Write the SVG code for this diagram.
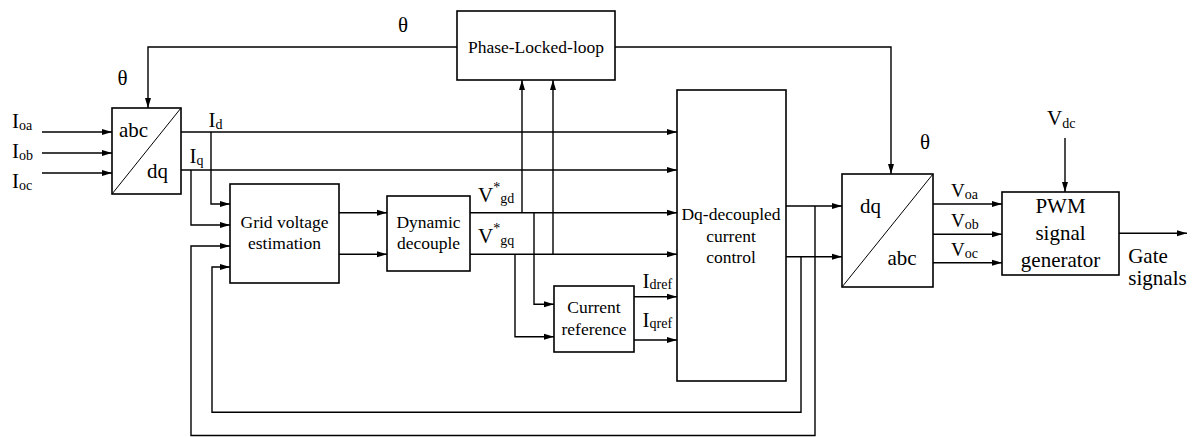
<svg xmlns="http://www.w3.org/2000/svg" width="1198" height="437" viewBox="0 0 1198 437" font-family="Liberation Serif, DejaVu Serif, serif">
<style>
  .box{fill:#fff;stroke:#000;stroke-width:1.6}
  .diag{stroke:#000;stroke-width:1;fill:none}
  .ln{fill:none;stroke:#000;stroke-width:1.4}
  .arr{marker-end:url(#ah)}
  text{font-family:'Liberation Serif','DejaVu Serif',serif;fill:#000}
  .blk{font-size:17.5px;text-anchor:middle}
  .big{font-size:21px}
  .bigc{font-size:21px;text-anchor:middle}
  .sub{font-size:14px}
</style>
<defs>
  <marker id="ah" markerUnits="userSpaceOnUse" markerWidth="10" markerHeight="6" refX="10" refY="3" orient="auto" overflow="visible">
    <path d="M0,0 L10,3 L0,6 z" fill="#000"/>
  </marker>
</defs>

<g id="connectors">
  <path class="ln arr" d="M42,132 H112"/>
  <path class="ln arr" d="M42,153 H112"/>
  <path class="ln arr" d="M42,173 H112"/>
  <path class="ln arr" d="M457,47 H148 V108"/>
  <path class="ln arr" d="M615,47 H891 V174"/>
  <path class="ln arr" d="M181,132 H677"/>
  <path class="ln arr" d="M181,170 H677"/>
  <path class="ln arr" d="M211,132 V204 H230"/>
  <path class="ln arr" d="M191,170 V225 H230"/>
  <path class="ln arr" d="M339,212.7 H387"/>
  <path class="ln arr" d="M339,254.3 H387"/>
  <path class="ln arr" d="M470,212.7 H677"/>
  <path class="ln arr" d="M470,254.3 H677"/>
  <path class="ln arr" d="M522,212.7 V80"/>
  <path class="ln arr" d="M553,254.3 V80"/>
  <path class="ln arr" d="M534,212.7 V304.3 H554"/>
  <path class="ln arr" d="M515,254.3 V336.7 H554"/>
  <path class="ln arr" d="M634,296.7 H677"/>
  <path class="ln arr" d="M634,340 H677"/>
  <path class="ln arr" d="M786,206 H842"/>
  <path class="ln arr" d="M786,256.7 H842"/>
  <path class="ln arr" d="M815,206 V435.5 H191 V246 H230"/>
  <path class="ln arr" d="M801,256.7 V412.3 H212 V267 H230"/>
  <path class="ln arr" d="M933,204 H1002"/>
  <path class="ln arr" d="M933,234.3 H1002"/>
  <path class="ln arr" d="M933,262.7 H1002"/>
  <path class="ln arr" d="M1065,138 V192"/>
  <path class="ln arr" d="M1119,233.3 H1187"/>
</g>

<g id="abc-dq">
  <rect class="box" x="112" y="108" width="69" height="86"/>
  <line class="diag" x1="112" y1="194" x2="181" y2="108"/>
  <text class="big" x="119" y="137">abc</text>
  <text class="big" x="147" y="178">dq</text>
</g>

<g id="pll">
  <rect class="box" x="457" y="11" width="158" height="69"/>
  <text class="blk" x="536" y="53">Phase-Locked-loop</text>
</g>

<g id="grid-voltage-estimation">
  <rect class="box" x="230" y="184" width="109" height="99"/>
  <text class="blk" x="284.5" y="228">Grid voltage</text>
  <text class="blk" x="284.5" y="249">estimation</text>
</g>

<g id="dynamic-decouple">
  <rect class="box" x="387" y="196" width="83" height="75"/>
  <text class="blk" x="428.5" y="228">Dynamic</text>
  <text class="blk" x="428.5" y="249">decouple</text>
</g>

<g id="current-reference">
  <rect class="box" x="554" y="286" width="80" height="66"/>
  <text class="blk" x="594" y="313">Current</text>
  <text class="blk" x="594" y="335">reference</text>
</g>

<g id="dq-decoupled-current-control">
  <rect class="box" x="677" y="90" width="109" height="291"/>
  <text class="blk" x="731" y="220">Dq-decoupled</text>
  <text class="blk" x="731" y="241.5">current</text>
  <text class="blk" x="731" y="262.5">control</text>
</g>

<g id="dq-abc">
  <rect class="box" x="842" y="174" width="91" height="113"/>
  <line class="diag" x1="842" y1="287" x2="933" y2="174"/>
  <text class="big" x="860" y="213">dq</text>
  <text class="big" x="887.5" y="265">abc</text>
</g>

<g id="pwm">
  <rect class="box" x="1002" y="192" width="117" height="83"/>
  <text class="bigc" x="1060.5" y="213">PWM</text>
  <text class="bigc" x="1060.5" y="240">signal</text>
  <text class="bigc" x="1060.5" y="266.5">generator</text>
</g>

<g id="labels">
  <text class="big" x="12" y="128">I<tspan class="sub" dy="2">oa</tspan></text>
  <text class="big" x="12" y="158">I<tspan class="sub" dy="2">ob</tspan></text>
  <text class="big" x="12" y="188">I<tspan class="sub" dy="2">oc</tspan></text>
  <text class="bigc" x="122.5" y="85">θ</text>
  <text class="bigc" x="403" y="32">θ</text>
  <text class="bigc" x="925" y="149">θ</text>
  <text class="big" x="208.5" y="127">I<tspan class="sub" dy="2">d</tspan></text>
  <text class="big" x="189.5" y="163">I<tspan class="sub" dy="2">q</tspan></text>
  <text class="big" x="478" y="202">V<tspan class="sub" dy="-10">*</tspan><tspan class="sub" dy="11">gd</tspan></text>
  <text class="big" x="478" y="243">V<tspan class="sub" dy="-10">*</tspan><tspan class="sub" dy="12">gq</tspan></text>
  <text class="big" x="642.5" y="287.5">I<tspan class="sub" dy="1">dref</tspan></text>
  <text class="big" x="642.5" y="326.5">I<tspan class="sub" dy="1">qref</tspan></text>
  <text class="big" x="951" y="196.5" style="font-size:19px">V<tspan class="sub" dy="2">oa</tspan></text>
  <text class="big" x="951" y="226.5" style="font-size:19px">V<tspan class="sub" dy="2">ob</tspan></text>
  <text class="big" x="951" y="255.5" style="font-size:19px">V<tspan class="sub" dy="2">oc</tspan></text>
  <text class="big" x="1047" y="125">V<tspan class="sub" dy="3">dc</tspan></text>
  <text class="bigc" x="1148" y="263">Gate</text>
  <text class="bigc" x="1157.5" y="285">signals</text>
</g>
</svg>
